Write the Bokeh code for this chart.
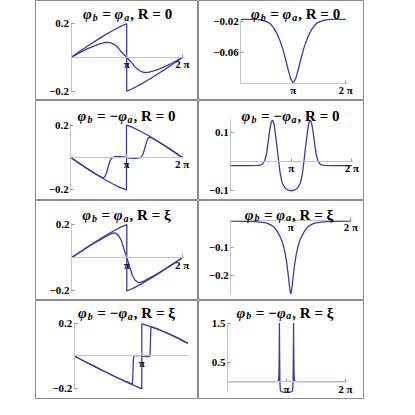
import math
from bokeh.plotting import figure
from bokeh.models import Label, FixedTicker, Spacer
from bokeh.layouts import row, column
from bokeh.embed import file_html
from bokeh.resources import INLINE

# ---------------- data (x in units of pi) ----------------
# Panel 1: phi_b = phi_a, R = 0
p1_x_outer = [0, 0.15, 0.3, 0.45, 0.6, 0.75, 0.9, 1.0, 1.0, 1.1, 1.25, 1.4, 1.55, 1.7, 1.85, 2.0]
p1_y_outer = [0, 0.035, 0.068, 0.100, 0.131, 0.160, 0.186, 0.200, -0.200, -0.186, -0.160, -0.131, -0.100, -0.068, -0.035, 0]
p1_x_inner = [0, 0.1, 0.2, 0.3, 0.4, 0.5, 0.6, 0.65, 0.7, 0.75, 0.8, 0.85, 0.9, 0.95, 1.0,
              1.05, 1.1, 1.15, 1.2, 1.25, 1.3, 1.35, 1.4, 1.5, 1.6, 1.7, 1.8, 1.9, 2.0]
p1_y_inner = [0, 0.018, 0.036, 0.052, 0.066, 0.079, 0.088, 0.090, 0.088, 0.082, 0.072, 0.056, 0.035, 0.017, 0,
              -0.017, -0.035, -0.056, -0.072, -0.082, -0.088, -0.090, -0.088, -0.079, -0.066, -0.052, -0.036, -0.018, 0]

# Panel 2: phi_b = phi_a, R = 0 (second quantity)
p2_x = [0, 0.2, 0.3, 0.4, 0.45, 0.5, 0.55, 0.6, 0.65, 0.7, 0.75, 0.8, 0.85, 0.9, 0.95, 1.0,
        1.05, 1.1, 1.15, 1.2, 1.25, 1.3, 1.35, 1.4, 1.45, 1.5, 1.55, 1.6, 1.7, 1.8, 2.0]
p2_y = [-0.0175, -0.0175, -0.0177, -0.0185, -0.0195, -0.0208, -0.0225, -0.0260, -0.0305, -0.0370, -0.0450, -0.0545, -0.0670, -0.0800, -0.0920, -0.0983,
        -0.0920, -0.0800, -0.0670, -0.0545, -0.0450, -0.0370, -0.0305, -0.0260, -0.0225, -0.0208, -0.0195, -0.0185, -0.0177, -0.0175, -0.0175]

# Panel 3: phi_b = -phi_a, R = 0
p3_x_outer = [0, 0.15, 0.3, 0.45, 0.6, 0.75, 0.9, 1.0, 1.0, 1.1, 1.25, 1.4, 1.55, 1.7, 1.85, 2.0]
p3_y_outer = [0, -0.036, -0.070, -0.103, -0.134, -0.162, -0.187, -0.200, 0.200, 0.187, 0.162, 0.134, 0.103, 0.070, 0.036, 0]
p3_x_inner = [0, 0.1, 0.2, 0.3, 0.4, 0.5, 0.56, 0.59, 0.61, 0.63, 0.655, 0.68, 0.705, 0.73, 0.77, 0.85, 0.95, 1.0,
              1.05, 1.15, 1.23, 1.27, 1.295, 1.32, 1.345, 1.37, 1.39, 1.41, 1.44, 1.5, 1.6, 1.7, 1.8, 1.9, 2.0]
p3_y_inner = [0, -0.024, -0.047, -0.069, -0.091, -0.111, -0.122, -0.125, -0.120, -0.105, -0.078, -0.046, -0.020, -0.006, 0.003, 0.006, 0.004, 0,
              -0.004, -0.006, -0.003, 0.006, 0.020, 0.046, 0.078, 0.105, 0.120, 0.125, 0.122, 0.111, 0.091, 0.069, 0.047, 0.024, 0]

# Panel 4: phi_b = -phi_a, R = 0 (second quantity)
p4_x = [0, 0.3, 0.45, 0.5, 0.53, 0.56, 0.59, 0.62, 0.645, 0.67, 0.692, 0.715, 0.74, 0.765, 0.79, 0.815, 0.85, 0.9, 0.95, 1.0,
        1.05, 1.1, 1.15, 1.185, 1.21, 1.235, 1.26, 1.285, 1.308, 1.33, 1.355, 1.38, 1.41, 1.44, 1.47, 1.5, 1.55, 1.7, 2.0]
p4_y = [-0.0145, -0.0145, -0.0140, -0.0120, -0.0080, 0.002, 0.025, 0.070, 0.110, 0.136, 0.141, 0.128, 0.090, 0.048, 0.002, -0.040, -0.075, -0.092, -0.099, -0.101,
        -0.099, -0.092, -0.075, -0.040, 0.002, 0.048, 0.090, 0.128, 0.141, 0.136, 0.110, 0.070, 0.025, 0.002, -0.0080, -0.0120, -0.0140, -0.0145, -0.0145]

# Panel 5: phi_b = phi_a, R = xi
p5_x_outer = [0, 0.15, 0.3, 0.45, 0.6, 0.75, 0.9, 1.0, 1.0, 1.1, 1.25, 1.4, 1.55, 1.7, 1.85, 2.0]
p5_y_outer = [0, 0.035, 0.068, 0.100, 0.131, 0.160, 0.186, 0.200, -0.200, -0.186, -0.160, -0.131, -0.100, -0.068, -0.035, 0]
p5_x_inner = [0, 0.1, 0.2, 0.3, 0.4, 0.5, 0.6, 0.7, 0.76, 0.8, 0.85, 0.9, 0.94, 0.97, 1.0,
              1.03, 1.06, 1.1, 1.15, 1.2, 1.24, 1.3, 1.4, 1.5, 1.6, 1.7, 1.8, 1.9, 2.0]
p5_y_inner = [0, 0.022, 0.044, 0.065, 0.086, 0.105, 0.124, 0.142, 0.150, 0.148, 0.135, 0.105, 0.062, 0.030, 0,
              -0.030, -0.062, -0.105, -0.135, -0.148, -0.150, -0.142, -0.124, -0.105, -0.086, -0.065, -0.044, -0.022, 0]

# Panel 6: phi_b = phi_a, R = xi (second quantity)
p6_x = [0, 0.3, 0.4, 0.5, 0.55, 0.6, 0.66, 0.72, 0.77, 0.81, 0.85, 0.88, 0.91, 0.935, 0.955, 0.975, 0.99, 1.0,
        1.01, 1.025, 1.045, 1.065, 1.09, 1.12, 1.15, 1.19, 1.23, 1.28, 1.34, 1.4, 1.45, 1.5, 1.6, 1.7, 2.0]
p6_y = [-0.003, -0.004, -0.005, -0.007, -0.009, -0.011, -0.016, -0.025, -0.039, -0.055, -0.074, -0.095, -0.125, -0.160, -0.195, -0.235, -0.260, -0.268,
        -0.260, -0.235, -0.195, -0.160, -0.125, -0.095, -0.074, -0.055, -0.039, -0.025, -0.016, -0.011, -0.009, -0.007, -0.005, -0.004, -0.003]

# Panel 7: phi_b = -phi_a, R = xi
p7_x_outer = [0, 0.15, 0.3, 0.45, 0.6, 0.75, 0.9, 1.0, 1.0, 1.1, 1.25, 1.4, 1.55, 1.68]
p7_y_outer = [0, -0.033, -0.065, -0.097, -0.128, -0.158, -0.186, -0.205, 0.200, 0.188, 0.165, 0.138, 0.108, 0.078]
p7_x_inner = [0, 0.15, 0.3, 0.45, 0.6, 0.75, 0.84, 0.862, 0.868, 0.874, 0.882, 0.92, 0.97, 1.0,
              1.03, 1.08, 1.118, 1.124, 1.13, 1.136, 1.15, 1.25, 1.4, 1.55, 1.68]
p7_y_inner = [0, -0.033, -0.065, -0.097, -0.128, -0.157, -0.172, -0.172, -0.120, -0.030, 0.002, 0.004, 0.002, 0,
              -0.002, -0.004, -0.002, 0.030, 0.120, 0.178, 0.180, 0.165, 0.138, 0.108, 0.078]

# Panel 8: phi_b = -phi_a, R = xi (second quantity)
p8_x = [0, 0.8, 0.85, 0.865, 0.872, 0.877, 0.88, 0.883, 0.888, 0.895, 0.91, 0.95, 1.0,
        1.05, 1.09, 1.105, 1.112, 1.117, 1.12, 1.123, 1.128, 1.135, 1.15, 1.2, 2.0]
p8_y = [0.0, 0.0, 0.005, 0.03, 0.2, 0.8, 1.52, 0.8, 0.0, -0.22, -0.265, -0.278, -0.28,
        -0.278, -0.265, -0.22, 0.0, 0.8, 1.52, 0.8, 0.2, 0.03, 0.005, 0.0, 0.0]

# tick labels
xt_full = [1, 2]
xl_full = ["π", "2 π"]
xt_pi = [1]
xl_pi = ["π"]

# titles: middle part after subscript b, and right-hand part after subscript a
titles_lhs = ["= φ", "= φ", "= −φ", "= −φ", "= φ", "= φ", "= −φ", "= −φ"]
titles_rhs = [", R = 0", ", R = 0", ", R = 0", ", R = 0", ", R = ξ", ", R = ξ", ", R = ξ", ", R = ξ"]

# ---------------- styling ----------------
LINE = "#3c3ca0"
AXIS = "#c4c4c4"
BORDER = "#8c8c8c"
SERIF = "Liberation Serif"

CW = {"φ": 0.62, "b": 0.50, "a": 0.50, " ": 0.25, "=": 0.57, "−": 0.57,
      ",": 0.25, "R": 0.72, "0": 0.50, "ξ": 0.46}


def tw(s, size):
    return sum(CW.get(c, 0.5) for c in s) * size


def make_panel(w, h, href, rx0, kx, ry0, yref, ky, xaxis_at, xb, yb,
               xticks, xlabels, yticks, ylabels, series, lhs, rhs, tcx, tbase):
    x0 = -rx0 / kx
    x1 = (w - rx0) / kx
    ytop = yref + ry0 / ky
    ybot = yref - (href - ry0) / ky
    p = figure(width=w, height=h, x_range=(x0, x1), y_range=(ybot, ytop),
               output_backend="svg", toolbar_location=None, min_border=0,
               background_fill_color="white", border_fill_color="white")
    p.xgrid.visible = False
    p.ygrid.visible = False
    p.outline_line_color = BORDER
    p.outline_line_width = 1

    xa = p.xaxis[0]
    xa.fixed_location = xaxis_at
    xa.bounds = xb
    xa.ticker = FixedTicker(ticks=xticks)
    xa.major_label_overrides = {t: l for t, l in zip(xticks, xlabels)}
    ya = p.yaxis[0]
    ya.fixed_location = 0
    ya.bounds = yb
    ya.ticker = FixedTicker(ticks=yticks)
    ya.major_label_overrides = {t: l for t, l in zip(yticks, ylabels)}
    for ax in (xa, ya):
        ax.axis_line_color = AXIS
        ax.axis_line_width = 1
        ax.major_tick_line_color = "#999999"
        ax.major_tick_in = 3
        ax.major_tick_out = 0
        ax.minor_tick_line_color = None
        ax.major_label_text_font = SERIF
        ax.major_label_text_font_style = "bold"
        ax.major_label_text_font_size = "11px"
        ax.major_label_text_color = "black"
    xa.major_label_standoff = 1
    ya.major_label_standoff = 2

    for xs, ys in series:
        p.line(xs, ys, line_color=LINE, line_width=1.3)

    # title made of pieces (italic phi with subscripts); gaps stand for spaces
    s = h / href
    base = h - tbase * s
    parts = [("φ", "bold italic", 15, 0, 0.5),
             ("b", "bold italic", 10, -3, 4.5),
             (lhs, "bold italic", 15, 0, 0.5),
             ("a", "bold italic", 10, -3, 1.0),
             (rhs, "bold", 15, 0, 0)]
    total = sum(tw(t, sz) + g for t, _, sz, _, g in parts)
    x = tcx - total / 2
    for t, st, sz, dy, g in parts:
        p.add_layout(Label(x=x, y=base + dy, x_units="screen", y_units="screen", text=t,
                           text_font=SERIF, text_font_style=st, text_font_size=f"{sz}px",
                           text_color="black", text_align="left", text_baseline="alphabetic"))
        x += tw(t, sz) + g
    return p


WL, WR = 163, 166
H = [100, 100, 100, 99]

p1 = make_panel(WL, H[0], 101, 35.5, 55.7, 57.5, 0, 170, 0, (0, 2.03), (-0.21, 0.21),
                xt_full, xl_full, [-0.2, 0.2], ["−0.2", "0.2"],
                [(p1_x_outer, p1_y_outer), (p1_x_inner, p1_y_inner)],
                titles_lhs[0], titles_rhs[0], 92, 14)
p2 = make_panel(WR, H[0], 101, 42.3, 52.4, 21, -0.02, 800, -0.0985, (0, 2.03), (-0.0985, -0.0172),
                xt_full, xl_full, [-0.06, -0.02], ["−0.06", "−0.02"],
                [(p2_x, p2_y)], titles_lhs[1], titles_rhs[1], 97, 14)
p3 = make_panel(WL, H[1], 103, 35.3, 55.7, 58.7, 0, 167, 0, (0, 2.03), (-0.21, 0.21),
                xt_full, xl_full, [-0.2, 0.2], ["−0.2", "0.2"],
                [(p3_x_outer, p3_y_outer), (p3_x_inner, p3_y_inner)],
                titles_lhs[2], titles_rhs[2], 91, 16)
p4 = make_panel(WR, H[1], 103, 32.3, 60.5, 62.7, 0, 300, 0, (0, 2.03), (-0.104, 0.143),
                xt_full, xl_full, [-0.1, 0.1], ["−0.1", "0.1"],
                [(p4_x, p4_y)], titles_lhs[3], titles_rhs[3], 92, 16)
p5 = make_panel(WL, H[2], 103, 36, 55.3, 59, 0, 171, 0, (0, 2.03), (-0.21, 0.21),
                xt_full, xl_full, [-0.2, 0.2], ["−0.2", "0.2"],
                [(p5_x_outer, p5_y_outer), (p5_x_inner, p5_y_inner)],
                titles_lhs[4], titles_rhs[4], 91, 15.3)
p6 = make_panel(WR, H[2], 103, 32.3, 60, 20.3, 0, 283, 0, (0, 2.03), (-0.27, 0.0),
                xt_full, xl_full, [-0.2, -0.1], ["−0.2", "−0.1"],
                [(p6_x, p6_y)], titles_lhs[5], titles_rhs[5], 90.5, 14.7)
p7 = make_panel(WL, H[3], 103, 38.7, 67.6, 57.7, 0, 167, 0, (0, 1.69), (-0.21, 0.21),
                xt_pi, xl_pi, [-0.2, 0.2], ["−0.2", "0.2"],
                [(p7_x_outer, p7_y_outer), (p7_x_inner, p7_y_inner)],
                titles_lhs[6], titles_rhs[6], 91, 13.3)
p8 = make_panel(WR, H[3], 103, 29, 59, 84.3, 0, 40, 0, (0, 2.03), (-0.28, 1.52),
                xt_full, xl_full, [0.5, 1.5], ["0.5", "1.5"],
                [(p8_x, p8_y)], titles_lhs[7], titles_rhs[7], 86.5, 13)

grid = column(row(p1, p2), row(p3, p4), row(p5, p6), row(p7, p8))
layout = row(Spacer(width=35, height=10), grid)

open("out.html", "w").write(file_html(layout, INLINE))
